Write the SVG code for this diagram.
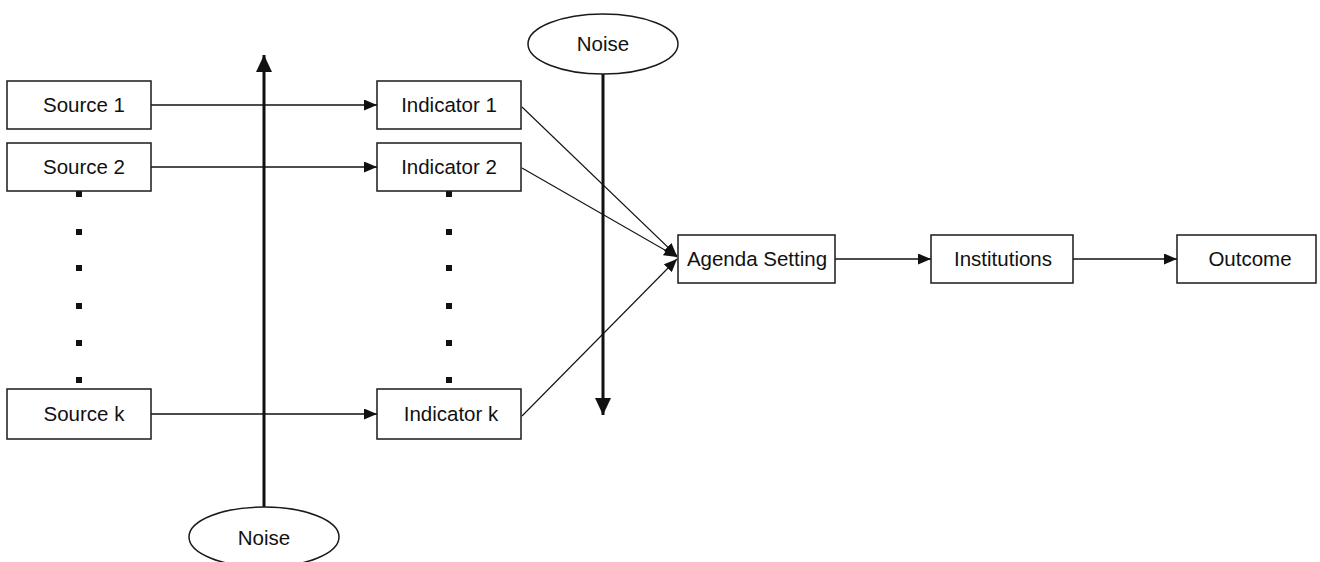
<svg xmlns="http://www.w3.org/2000/svg" width="1320" height="562" viewBox="0 0 1320 562">
<style>
.box{fill:#fff;stroke:#1a1a1a;stroke-width:1.5}
.ell{fill:#fff;stroke:#1a1a1a;stroke-width:1.5}
.t{font-family:"Liberation Sans",Arial,sans-serif;font-size:20.5px;fill:#111;text-anchor:middle}
.ln{stroke:#111;stroke-width:1.7;fill:none}
.thin{stroke:#111;stroke-width:1.1;fill:none}
.thick{stroke:#111;stroke-width:3;fill:none}
.dot{fill:#111}
</style>
<defs>
<marker id="ah" markerWidth="13" markerHeight="11" refX="13" refY="5.5" orient="auto" markerUnits="userSpaceOnUse">
<path d="M0,0 L13,5.5 L0,11 z" fill="#111"/>
</marker>
<marker id="ahb" markerWidth="17" markerHeight="16" refX="17" refY="8" orient="auto" markerUnits="userSpaceOnUse">
<path d="M0,0 L17,8 L0,16 z" fill="#111"/>
</marker>
</defs>
<g id="connectors">
<line class="ln" x1="151" y1="105" x2="377" y2="105" marker-end="url(#ah)"/>
<line class="ln" x1="151" y1="167" x2="377" y2="167" marker-end="url(#ah)"/>
<line class="ln" x1="151" y1="414" x2="377" y2="414" marker-end="url(#ah)"/>
<line class="thick" x1="264" y1="507" x2="264" y2="55" marker-end="url(#ahb)"/>
<line class="thick" x1="603" y1="74" x2="603" y2="415" marker-end="url(#ahb)"/>
<line class="thin" x1="522" y1="107" x2="677" y2="256" marker-end="url(#ah)"/>
<line class="thin" x1="522" y1="168" x2="677" y2="257" marker-end="url(#ah)"/>
<line class="thin" x1="522" y1="416" x2="677" y2="259" marker-end="url(#ah)"/>
<line class="ln" x1="835" y1="259" x2="931" y2="259" marker-end="url(#ah)"/>
<line class="ln" x1="1073" y1="259" x2="1177" y2="259" marker-end="url(#ah)"/>
</g>
<g id="dots-sources">
<rect class="dot" x="76" y="191" width="6" height="6"/>
<rect class="dot" x="76" y="229" width="6" height="6"/>
<rect class="dot" x="76" y="265" width="6" height="6"/>
<rect class="dot" x="76" y="303" width="6" height="6"/>
<rect class="dot" x="76" y="340" width="6" height="6"/>
<rect class="dot" x="76" y="377" width="6" height="6"/>
</g>
<g id="dots-indicators">
<rect class="dot" x="446" y="191" width="6" height="6"/>
<rect class="dot" x="446" y="229" width="6" height="6"/>
<rect class="dot" x="446" y="265" width="6" height="6"/>
<rect class="dot" x="446" y="303" width="6" height="6"/>
<rect class="dot" x="446" y="340" width="6" height="6"/>
<rect class="dot" x="446" y="377" width="6" height="6"/>
</g>
<g id="source1"><rect class="box" x="7" y="81" width="144" height="48"/><text class="t" x="84" y="112">Source 1</text></g>
<g id="source2"><rect class="box" x="7" y="143" width="144" height="48"/><text class="t" x="84" y="174">Source 2</text></g>
<g id="sourcek"><rect class="box" x="7" y="389" width="144" height="50"/><text class="t" x="84" y="421">Source k</text></g>
<g id="indicator1"><rect class="box" x="377" y="81" width="144" height="48"/><text class="t" x="449" y="112">Indicator 1</text></g>
<g id="indicator2"><rect class="box" x="377" y="143" width="144" height="48"/><text class="t" x="449" y="174">Indicator 2</text></g>
<g id="indicatork"><rect class="box" x="377" y="389" width="144" height="50"/><text class="t" x="451" y="421">Indicator k</text></g>
<g id="noise-top"><ellipse class="ell" cx="603" cy="44" rx="75" ry="30"/><text class="t" x="603" y="51">Noise</text></g>
<g id="noise-bottom"><ellipse class="ell" cx="264" cy="537" rx="75" ry="30"/><text class="t" x="264" y="545">Noise</text></g>
<g id="agenda"><rect class="box" x="678" y="235" width="157" height="48"/><text class="t" x="757" y="266">Agenda Setting</text></g>
<g id="institutions"><rect class="box" x="931" y="235" width="142" height="48"/><text class="t" x="1003" y="266">Institutions</text></g>
<g id="outcome"><rect class="box" x="1177" y="235" width="139" height="48"/><text class="t" x="1250" y="266">Outcome</text></g>
</svg>
